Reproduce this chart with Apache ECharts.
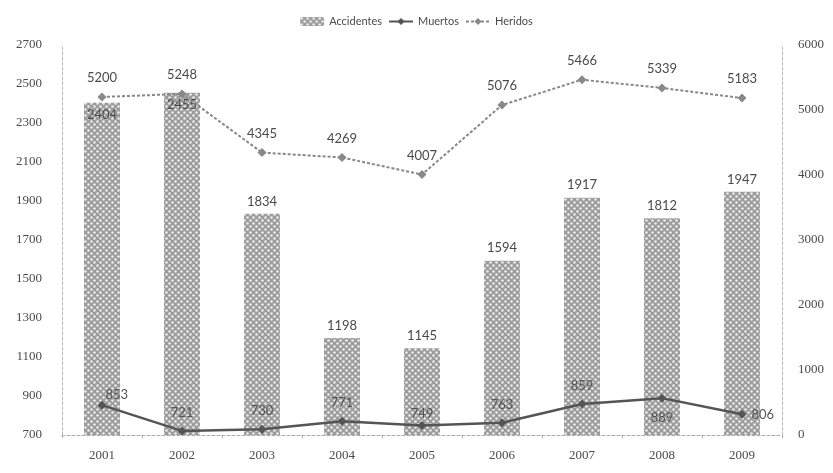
<!DOCTYPE html>
<html>
<head>
<meta charset="utf-8">
<script src="https://cdn.jsdelivr.net/npm/echarts@6/dist/echarts.min.js"></script>
<style>html,body{margin:0;padding:0;background:#fff}#c{width:833px;height:473px}</style>
</head>
<body>
<div id="c"></div>
<script>
const years = ['2001','2002','2003','2004','2005','2006','2007','2008','2009'];
const accidentes = [2404, 2455, 1834, 1198, 1145, 1594, 1917, 1812, 1947];
const muertos = [853, 721, 730, 771, 749, 763, 859, 889, 806];
const heridos = [5200, 5248, 4345, 4269, 4007, 5076, 5466, 5339, 5183];
const leftTicks = [700, 2700, 200];
const rightTicks = [0, 6000, 1000];

// pattern for bars
const pc = document.createElement('canvas');
pc.width = 6; pc.height = 6;
const g = pc.getContext('2d');
g.fillStyle = '#9c9c9c'; g.fillRect(0,0,6,6);
g.fillStyle = '#ececec';
[[1.5,1.5],[4.5,4.5]].forEach(p=>{g.beginPath();g.arc(p[0],p[1],1.3,0,Math.PI*2);g.fill();});

const chart = echarts.init(document.getElementById('c'));
const txt = '#4a4a4a';
const lblFont = 'Lato';
const axFont = 'Liberation Serif';
const plain = v => String(v);

const accPos = ['insideTop','insideTop','top','top','top','top','top','top','top'];
const muePos = [['right',[-6,-10]],['top',[0,-2]],['top',[0,-2]],['top',[0,-2]],['top',[0,4]],['top',[0,-2]],['top',[0,-2]],['bottom',[0,4]],['right',[0,0]]];

chart.setOption({
  animation:false,
  backgroundColor:'#fff',
  legend:{
    top:11, left:'center', itemWidth:24, itemHeight:9, itemGap:6,
    textStyle:{color:txt, fontSize:11, fontFamily:lblFont},
    data:['Accidentes','Muertos','Heridos']
  },
  grid:{left:62, right:51, top:45, bottom:38},
  xAxis:{
    type:'category', data:years,
    axisLine:{lineStyle:{color:'#aaa', type:[3,2]}},
    axisTick:{show:true, length:3, lineStyle:{color:'#aaa'}},
    axisLabel:{color:txt, fontFamily:axFont, fontSize:13, margin:14}
  },
  yAxis:[
    {type:'value', min:leftTicks[0], max:leftTicks[1], interval:leftTicks[2],
     axisLine:{show:true, lineStyle:{color:'#bbb', type:[3,2]}},
     axisTick:{show:false}, splitLine:{show:false},
     axisLabel:{color:txt, fontFamily:axFont, fontSize:13, margin:20, align:'right', formatter:plain}},
    {type:'value', min:rightTicks[0], max:rightTicks[1], interval:rightTicks[2],
     axisLine:{show:true, lineStyle:{color:'#bbb', type:[3,2]}},
     axisTick:{show:false}, splitLine:{show:false},
     axisLabel:{color:txt, fontFamily:axFont, fontSize:13, margin:16, formatter:plain}}
  ],
  series:[
    {name:'Accidentes', type:'bar', yAxisIndex:0, barWidth:36,
     itemStyle:{color:{image:pc, repeat:'repeat'}},
     data:accidentes.map((v,i)=>({value:v, label:{position:accPos[i]}})),
     label:{show:true, color:txt, fontFamily:lblFont, fontSize:13, distance:6}},
    {name:'Muertos', type:'line', yAxisIndex:0, z:5,
     symbol:'diamond', symbolSize:9,
     lineStyle:{color:'#555', width:2.5}, itemStyle:{color:'#555'},
     data:muertos.map((v,i)=>({value:v, label:{position:muePos[i][0], offset:muePos[i][1]}})),
     label:{show:true, color:'#555', fontFamily:lblFont, fontSize:13}},
    {name:'Heridos', type:'line', yAxisIndex:1, z:5,
     symbol:'diamond', symbolSize:9,
     lineStyle:{color:'#888', width:2, type:[3,2]}, itemStyle:{color:'#888'},
     data:heridos,
     label:{show:true, position:'top', distance:8, color:txt, fontFamily:lblFont, fontSize:13}}
  ]
});
</script>
</body>
</html>
